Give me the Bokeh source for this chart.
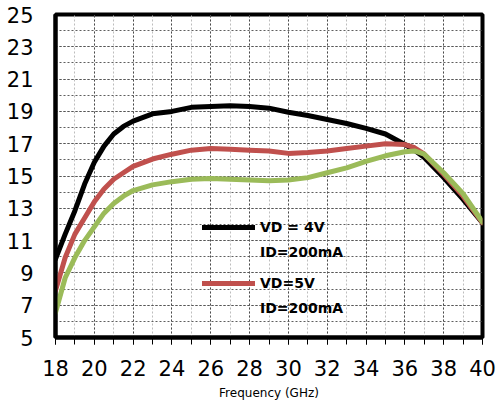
from bokeh.plotting import figure
from bokeh.models import FixedTicker, Legend, LegendItem, Range1d
from bokeh.embed import file_html
from bokeh.resources import INLINE

# Gain vs frequency for three bias conditions
freq_ghz = [18, 18.5, 19, 19.5, 20, 20.5, 21, 21.5, 22, 23, 24, 25, 26, 27, 28,
            29, 30, 31, 32, 33, 34, 35, 36, 36.5, 37, 38, 39, 40]
gain_vd4 = [9.85, 11.4, 12.85, 14.5, 15.85, 16.85, 17.6, 18.07, 18.4, 18.85, 19.0,
            19.25, 19.3, 19.35, 19.3, 19.2, 18.95, 18.75, 18.5, 18.25, 17.95, 17.6,
            16.95, 16.6, 16.15, 14.9, 13.55, 12.1]
gain_vd5 = [7.9, 9.95, 11.4, 12.4, 13.4, 14.2, 14.8, 15.2, 15.6, 16.05, 16.35,
            16.6, 16.7, 16.65, 16.6, 16.55, 16.4, 16.45, 16.55, 16.7, 16.85, 17.0,
            16.95, 16.75, 16.35, 15.1, 13.75, 12.1]
gain_vd3 = [6.55, 8.7, 9.95, 11.0, 11.85, 12.7, 13.3, 13.75, 14.1, 14.45, 14.65,
            14.8, 14.85, 14.8, 14.75, 14.7, 14.75, 14.9, 15.2, 15.5, 15.9, 16.25,
            16.5, 16.55, 16.35, 15.2, 13.9, 12.15]

x_ticks = list(range(18, 41, 2))
x_minor = list(range(18, 41))
y_ticks = list(range(5, 26, 2))
y_minor = list(range(5, 26))

FONT = "DejaVu Sans"

p = figure(width=497, height=410, output_backend="svg", toolbar_location=None,
           x_range=Range1d(18, 40), y_range=Range1d(5, 25),
           min_border_left=55, min_border_right=15, min_border_top=14,
           min_border_bottom=73)
p.background_fill_color = "white"
p.border_fill_color = "white"
p.outline_line_color = "black"
p.outline_line_width = 4

# axes
p.xaxis.ticker = FixedTicker(ticks=x_ticks, minor_ticks=x_minor)
p.yaxis.ticker = FixedTicker(ticks=y_ticks, minor_ticks=y_minor)
for ax in (p.xaxis, p.yaxis):
    ax.axis_line_color = "black"
    ax.axis_line_width = 4
    ax.major_label_text_font = FONT
    ax.major_label_text_font_size = "21px"
    ax.major_label_text_color = "black"
    ax.major_tick_in = 0
    ax.minor_tick_in = 0

p.xaxis.major_tick_out = 7
p.xaxis.minor_tick_out = 7
p.xaxis.major_tick_line_color = "black"
p.xaxis.minor_tick_line_color = "black"
p.xaxis.major_tick_line_width = 1
p.xaxis.minor_tick_line_width = 1
p.xaxis.major_label_standoff = 15
p.xaxis.axis_label = "Frequency (GHz)"
p.xaxis.axis_label_text_font = FONT
p.xaxis.axis_label_text_font_size = "12px"
p.xaxis.axis_label_text_font_style = "normal"
p.xaxis.axis_label_text_color = "black"
p.xaxis.axis_label_standoff = 7

p.yaxis.major_tick_out = 0
p.yaxis.minor_tick_out = 0
p.yaxis.major_label_standoff = 22

# dashed grid: darker at labelled GHz, lighter between; every dB on y
p.xgrid.grid_line_color = "#4a4a4a"
p.xgrid.grid_line_dash = "2 2"
p.xgrid.grid_line_width = 1
p.xgrid.minor_grid_line_color = "#bdbdbd"
p.xgrid.minor_grid_line_dash = "2 2"
p.ygrid.grid_line_color = "#555555"
p.ygrid.grid_line_dash = "2 2"
p.ygrid.minor_grid_line_color = "#5e5e5e"
p.ygrid.minor_grid_line_dash = "2 2"

# curves
r4 = p.line(freq_ghz, gain_vd4, line_color="#000000", line_width=5,
            line_join="round", line_cap="round")
r5 = p.line(freq_ghz, gain_vd5, line_color="#C0504D", line_width=5,
            line_join="round", line_cap="round")
p.line(freq_ghz, gain_vd3, line_color="#9BBB59", line_width=5,
       line_join="round", line_cap="round")

# blank entry used for the second line of each legend label
blank = p.line([], [], line_alpha=0)


def make_legend(renderer, head, loc):
    leg = Legend(items=[LegendItem(label=head, renderers=[renderer]),
                        LegendItem(label="ID=200mA", renderers=[blank])],
                 location=loc, orientation="vertical")
    leg.background_fill_alpha = 0
    leg.border_line_alpha = 0
    leg.padding = 0
    leg.margin = 0
    leg.spacing = 5
    leg.glyph_width = 53
    leg.glyph_height = 20
    leg.label_height = 20
    leg.label_standoff = 5
    leg.label_text_font = FONT
    leg.label_text_font_size = "14px"
    leg.label_text_font_style = "bold"
    leg.label_text_color = "black"
    return leg


p.add_layout(make_legend(r4, "VD = 4V", (147, 75)))
p.add_layout(make_legend(r5, "VD=5V", (147, 19)))

open("out.html", "w").write(file_html(p, INLINE))
